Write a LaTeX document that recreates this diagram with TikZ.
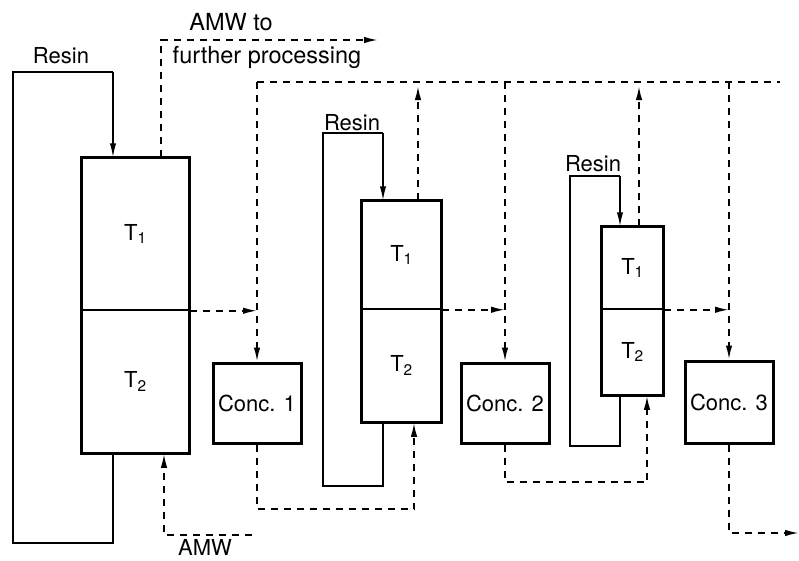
\documentclass[tikz,border=0pt]{standalone}
\usepackage{fontspec}
\setmainfont{TeX Gyre Heros}
\usepackage{tikz}
\usetikzlibrary{positioning,arrows.meta}
\tikzset{
    half/.style={
        draw,
        line width=1.5pt,
        inner sep=0pt,
        font=\fontsize{22}{26}\selectfont
    },
    tankwall/.style={
        line width=3pt
    },
    conc/.style={
        draw,
        line width=3pt,
        inner sep=0pt,
        minimum width=88pt,
        minimum height=80pt,
        font=\fontsize{22}{26}\selectfont
    },
    lbl/.style={
        inner sep=0pt,
        font=\fontsize{22}{26}\selectfont
    },
    toplbl/.style={
        inner sep=0pt,
        font=\fontsize{23.5}{28}\selectfont
    },
    resinline/.style={line width=1.5pt},
    resinarrow/.style={->, line width=1.5pt},
    amw/.style={line width=1.8pt, dash pattern=on 7pt off 6pt},
    amwarrow/.style={->, line width=1.8pt, dash pattern=on 7pt off 6pt}
}

\begin{document}
\begin{tikzpicture}[x=1pt,y=-1pt,>={Latex[length=14pt,width=6.5pt]}]
\useasboundingbox (0,0) rectangle (799,560);

% ------------------------------------------------------------
% Column 1
% ------------------------------------------------------------

\node[half, minimum width=107pt, minimum height=152pt] (t1a) at (135.5,234)
{T\textsubscript{1}};
\node[half, minimum width=107pt, minimum height=143pt] (t2a) at (135.5,381.5)
{T\textsubscript{2}};
\draw[tankwall] (t1a.north west) rectangle (t2a.south east);

\coordinate (rin1) at (113,72);
\coordinate (rout1) at (13,543);
\node[lbl] (resin1) at (61,56) {Resin};
\draw[resinline] (rin1 |- t2a.south) |- (rout1) |- (rin1);
\draw[resinarrow] (rin1) -- (rin1 |- t1a.north);

\coordinate (up1) at (161,40);
\coordinate (amwout) at (378,40);
\node[toplbl] (amwto) at (231,22) {AMW to};
\node[toplbl] (further) at (267,57) {further processing};
\draw[amwarrow] (up1 |- t1a.north) -- (up1) -- (amwout);

\coordinate (amwin) at (252,535);
\coordinate (feed1) at (164,535);
\node[lbl] (amwlbl) at (205,547) {AMW};
\draw[amwarrow] (amwin) -- (feed1) -- (feed1 |- t2a.south);

% header line
\coordinate (hl) at (257,82);
\coordinate (hr) at (780,82);
\draw[amw] (hl) -- (hr);

\node[conc] (c1) at (257,403) {Conc. 1};
\draw[amwarrow] (t1a.south east) -- (hl |- t1a.south);
\draw[amwarrow] (hl) -- (c1.north);

% ------------------------------------------------------------
% Column 2
% ------------------------------------------------------------

\node[half, minimum width=79pt, minimum height=108pt] (t1b) at (401.5,255)
{T\textsubscript{1}};
\node[half, minimum width=79pt, minimum height=113pt] (t2b) at (401.5,365.5)
{T\textsubscript{2}};
\draw[tankwall] (t1b.north west) rectangle (t2b.south east);

\coordinate (rin2) at (383,133);
\coordinate (rout2) at (323,486);
\node[lbl] (resin2) at (352,123) {Resin};
\draw[resinline] (rin2 |- t2b.south) |- (rout2) |- (rin2);
\draw[resinarrow] (rin2) -- (rin2 |- t1b.north);

\coordinate (up2) at (418,82);
\draw[amwarrow, shorten >=4pt] (up2 |- t1b.north) -- (up2);

\coordinate (ret1) at (414,509);
\draw[amwarrow] (c1.south) |- (ret1) -- (ret1 |- t2b.south);

\node[conc] (c2) at (505,403) {Conc. 2};
\draw[amwarrow] (t1b.south east) -- (c2.north |- t1b.south);
\draw[amwarrow] (c2.north |- hl) -- (c2.north);

% ------------------------------------------------------------
% Column 3
% ------------------------------------------------------------

\node[half, minimum width=61pt, minimum height=82pt] (t1c) at (632.5,268)
{T\textsubscript{1}};
\node[half, minimum width=61pt, minimum height=86pt] (t2c) at (632.5,352)
{T\textsubscript{2}};
\draw[tankwall] (t1c.north west) rectangle (t2c.south east);

\coordinate (rin3) at (620,176);
\coordinate (rout3) at (570,446);
\node[lbl] (resin3) at (593,164) {Resin};
\draw[resinline] (rin3 |- t2c.south) |- (rout3) |- (rin3);
\draw[resinarrow] (rin3) -- (rin3 |- t1c.north);

\coordinate (up3) at (639,82);
\draw[amwarrow, shorten >=4pt] (up3 |- t1c.north) -- (up3);

\coordinate (ret2) at (647,482);
\draw[amwarrow] (c2.south) |- (ret2) -- (ret2 |- t2c.south);

\node[conc, minimum height=82pt] (c3) at (729,402) {Conc. 3};
\draw[amwarrow] (t1c.south east) -- (c3.north |- t1c.south);
\draw[amwarrow] (c3.north |- hl) -- (c3.north);

\coordinate (prod) at (799,533);
\draw[amwarrow] (c3.south) |- (prod);

\end{tikzpicture}
\end{document}
